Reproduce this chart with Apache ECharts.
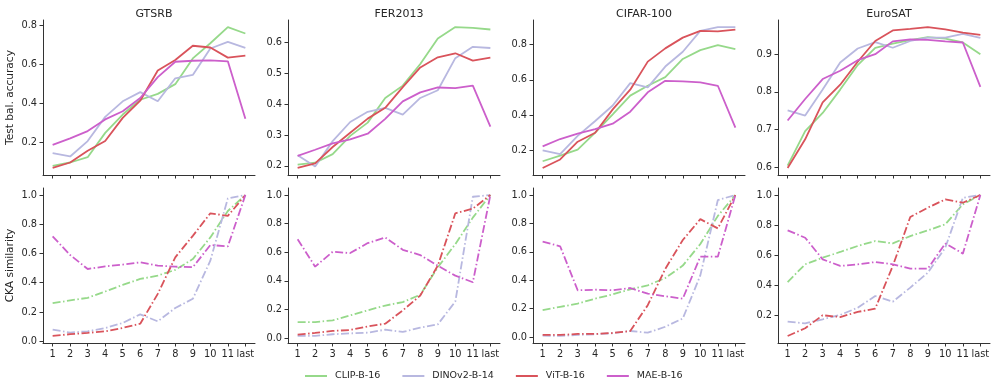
<!DOCTYPE html>
<html>
<head>
<meta charset="utf-8">
<script src="https://cdn.jsdelivr.net/npm/echarts@6/dist/echarts.min.js"></script>
<style>
  html, body { margin: 0; padding: 0; background: #fff; }
  #main { width: 996px; height: 391px; }
</style>
</head>
<body>
<div id="main"></div>
<script>
// layers on the x axis
const layers = ['1', '2', '3', '4', '5', '6', '7', '8', '9', '10', '11', 'last']
const datasets = ['GTSRB', 'FER2013', 'CIFAR-100', 'EuroSAT']
const models = ['CLIP-B-16', 'DINOv2-B-14', 'ViT-B-16', 'MAE-B-16']
const modelColors = ['#96d98a', '#b8b8e0', '#d9535b', '#cc5fcb']

// test balanced accuracy, order: CLIP, DINOv2, ViT, MAE
const accGTSRB = [
  [0.081, 0.098, 0.125, 0.25, 0.344, 0.42, 0.45, 0.50, 0.632, 0.71, 0.793, 0.76],
  [0.146, 0.129, 0.208, 0.332, 0.412, 0.459, 0.412, 0.53, 0.547, 0.683, 0.717, 0.686],
  [0.07, 0.098, 0.158, 0.208, 0.327, 0.415, 0.57, 0.624, 0.697, 0.688, 0.636, 0.646],
  [0.188, 0.222, 0.259, 0.319, 0.361, 0.429, 0.536, 0.615, 0.62, 0.622, 0.617, 0.322]
]
const accFER = [
  [0.204, 0.21, 0.238, 0.297, 0.34, 0.42, 0.46, 0.53, 0.613, 0.65, 0.647, 0.642],
  [0.234, 0.198, 0.28, 0.342, 0.375, 0.388, 0.366, 0.42, 0.445, 0.549, 0.586, 0.582],
  [0.193, 0.208, 0.261, 0.307, 0.353, 0.388, 0.455, 0.519, 0.552, 0.565, 0.541, 0.551],
  [0.232, 0.252, 0.273, 0.286, 0.304, 0.352, 0.409, 0.438, 0.454, 0.452, 0.46, 0.327]
]
const accCIFAR = [
  [0.138, 0.17, 0.204, 0.30, 0.404, 0.51, 0.566, 0.615, 0.718, 0.768, 0.796, 0.774],
  [0.20, 0.179, 0.282, 0.366, 0.454, 0.581, 0.557, 0.675, 0.759, 0.877, 0.899, 0.899],
  [0.10, 0.148, 0.249, 0.30, 0.432, 0.544, 0.703, 0.778, 0.839, 0.877, 0.875, 0.884],
  [0.222, 0.264, 0.295, 0.32, 0.351, 0.419, 0.529, 0.594, 0.591, 0.585, 0.566, 0.329]
]
const accEuroSAT = [
  [0.604, 0.696, 0.744, 0.806, 0.871, 0.917, 0.928, 0.937, 0.945, 0.941, 0.931, 0.90],
  [0.751, 0.737, 0.806, 0.878, 0.915, 0.932, 0.917, 0.935, 0.944, 0.944, 0.954, 0.943],
  [0.598, 0.674, 0.772, 0.819, 0.88, 0.935, 0.963, 0.967, 0.972, 0.966, 0.957, 0.951],
  [0.724, 0.781, 0.834, 0.856, 0.884, 0.90, 0.934, 0.939, 0.938, 0.934, 0.931, 0.813]
]

// CKA similarity to the last layer
const ckaGTSRB = [
  [0.26, 0.279, 0.297, 0.34, 0.385, 0.426, 0.449, 0.488, 0.562, 0.71, 0.891, 1.0],
  [0.079, 0.059, 0.068, 0.09, 0.125, 0.184, 0.136, 0.227, 0.29, 0.551, 0.977, 1.0],
  [0.036, 0.048, 0.057, 0.068, 0.091, 0.12, 0.324, 0.574, 0.721, 0.875, 0.857, 1.0],
  [0.717, 0.59, 0.494, 0.512, 0.524, 0.54, 0.517, 0.51, 0.506, 0.658, 0.649, 1.0]
]
const ckaFER = [
  [0.111, 0.111, 0.123, 0.158, 0.193, 0.227, 0.251, 0.302, 0.494, 0.657, 0.842, 1.0],
  [0.014, 0.014, 0.026, 0.032, 0.037, 0.058, 0.042, 0.072, 0.095, 0.255, 0.988, 1.0],
  [0.023, 0.035, 0.049, 0.056, 0.081, 0.10, 0.193, 0.297, 0.506, 0.872, 0.905, 1.0],
  [0.691, 0.499, 0.603, 0.594, 0.664, 0.703, 0.617, 0.58, 0.506, 0.436, 0.39, 1.0]
]
const ckaCIFAR = [
  [0.189, 0.212, 0.235, 0.27, 0.30, 0.336, 0.364, 0.415, 0.503, 0.655, 0.853, 1.0],
  [0.009, 0.007, 0.014, 0.019, 0.026, 0.042, 0.03, 0.072, 0.13, 0.434, 0.965, 1.0],
  [0.014, 0.014, 0.021, 0.021, 0.028, 0.042, 0.224, 0.48, 0.683, 0.83, 0.765, 1.0],
  [0.671, 0.639, 0.329, 0.333, 0.329, 0.345, 0.305, 0.287, 0.27, 0.566, 0.566, 1.0]
]
const ckaEuroSAT = [
  [0.421, 0.539, 0.583, 0.621, 0.661, 0.694, 0.678, 0.727, 0.765, 0.805, 0.938, 1.0],
  [0.157, 0.146, 0.173, 0.202, 0.25, 0.328, 0.29, 0.384, 0.483, 0.65, 0.982, 1.0],
  [0.062, 0.113, 0.20, 0.188, 0.222, 0.244, 0.528, 0.854, 0.916, 0.971, 0.949, 1.0],
  [0.765, 0.716, 0.572, 0.528, 0.539, 0.554, 0.539, 0.51, 0.51, 0.678, 0.61, 1.0]
]

const accTicks = [
  [0.2, 0.4, 0.6, 0.8],
  [0.2, 0.3, 0.4, 0.5, 0.6],
  [0.2, 0.4, 0.6, 0.8],
  [0.6, 0.7, 0.8, 0.9]
]
const ckaTicks = [
  [0.0, 0.2, 0.4, 0.6, 0.8, 1.0],
  [0.0, 0.2, 0.4, 0.6, 0.8, 1.0],
  [0.0, 0.2, 0.4, 0.6, 0.8, 1.0],
  [0.2, 0.4, 0.6, 0.8, 1.0]
]

const accData = [accGTSRB, accFER, accCIFAR, accEuroSAT]
const ckaData = [ckaGTSRB, ckaFER, ckaCIFAR, ckaEuroSAT]

const FONT = 'DejaVu Sans'
const TXT = '#262626'
const AX = '#333333'
const dashDot = [8, 2.5, 1.5, 2.5]

const panelLeft = 43
const panelStep = 245
const panelWidth = 212
const rows = [{ top: 20, height: 155 }, { top: 188, height: 155 }]

// matplotlib-like 5% margin around the data
const padRange = (panel) => {
  const all = panel.flat()
  const lo = Math.min(...all)
  const hi = Math.max(...all)
  const pad = (hi - lo) * 0.05
  return [lo - pad, hi + pad]
}

const chart = echarts.init(document.getElementById('main'))

const grid = []
const xAxis = []
const yAxis = []
const series = []
const title = []

const rowData = [accData, ckaData]
const rowTicks = [accTicks, ckaTicks]
const rowNames = ['Test bal. accuracy', 'CKA similarity']

rowData.forEach((panels, r) => {
  panels.forEach((panel, c) => {
    const idx = r * 4 + c
    const [ymin, ymax] = padRange(panel)
    grid.push({
      left: panelLeft + panelStep * c,
      top: rows[r].top,
      width: panelWidth,
      height: rows[r].height,
      containLabel: false
    })
    xAxis.push({
      type: 'value',
      gridIndex: idx,
      min: -0.55,
      max: layers.length - 1 + 0.55,
      splitLine: { show: false },
      axisLine: { show: true, onZero: false, lineStyle: { color: AX, width: 1 } },
      axisTick: {
        show: true,
        length: 3.5,
        lineStyle: { color: AX },
        customValues: layers.map((_, i) => i)
      },
      axisLabel: {
        show: r === 1,
        margin: 6,
        fontFamily: FONT,
        fontSize: 9.8,
        color: TXT,
        customValues: layers.map((_, i) => i),
        formatter: (v) => layers[Math.round(v)]
      }
    })
    yAxis.push({
      type: 'value',
      gridIndex: idx,
      min: ymin,
      max: ymax,
      splitLine: { show: false },
      axisLine: { show: true, onZero: false, lineStyle: { color: AX, width: 1 } },
      axisTick: {
        show: true,
        length: 3.5,
        lineStyle: { color: AX },
        customValues: rowTicks[r][c]
      },
      axisLabel: {
        margin: 6,
        fontFamily: FONT,
        fontSize: 9.8,
        color: TXT,
        customValues: rowTicks[r][c],
        formatter: (v) => v.toFixed(1)
      },
      name: c === 0 ? rowNames[r] : '',
      nameLocation: 'middle',
      nameGap: 27,
      nameTextStyle: { fontFamily: FONT, fontSize: 10.6, color: TXT }
    })
    panel.forEach((vals, m) => {
      series.push({
        name: models[m],
        type: 'line',
        xAxisIndex: idx,
        yAxisIndex: idx,
        data: vals.map((v, i) => [i, v]),
        symbol: 'none',
        silent: true,
        animation: false,
        z: 2 + m,
        lineStyle: {
          color: modelColors[m],
          width: 1.8,
          type: r === 0 ? 'solid' : dashDot
        },
        itemStyle: { color: modelColors[m] }
      })
    })
    if (r === 0) {
      title.push({
        text: datasets[c],
        left: panelLeft + panelStep * c + panelWidth / 2,
        top: 4,
        textAlign: 'center',
        textStyle: { fontFamily: FONT, fontSize: 11, fontWeight: 'normal', color: TXT }
      })
    }
  })
})

chart.setOption({
  animation: false,
  backgroundColor: '#ffffff',
  title,
  grid,
  xAxis,
  yAxis,
  series,
  legend: {
    data: models,
    left: 300,
    top: 366,
    icon: 'rect',
    itemWidth: 22,
    itemHeight: 2,
    itemGap: 22,
    textStyle: { fontFamily: FONT, fontSize: 9.5, color: TXT, padding: [0, 0, 0, 3] }
  }
})
</script>
</body>
</html>
